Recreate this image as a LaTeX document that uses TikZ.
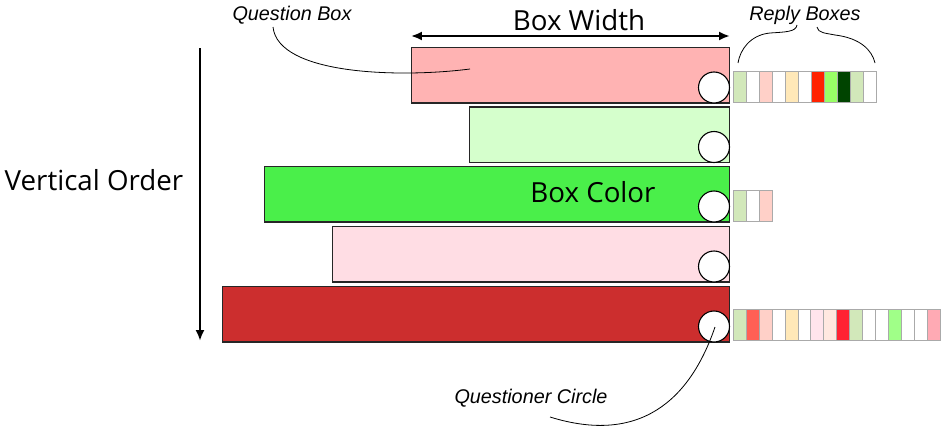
\documentclass[tikz,border=0pt]{standalone}
\usepackage{fontspec}
\setmainfont{Open Sans}
\newfontfamily\labelfont{Liberation Sans}
\usetikzlibrary{arrows.meta,calc}
\definecolor{qpink}{HTML}{FFB3B3}
\definecolor{qlgreen}{HTML}{D5FFCC}
\definecolor{qgreen}{HTML}{4AEF4A}
\definecolor{qlpink}{HTML}{FFDDE4}
\definecolor{qred}{HTML}{CC2E2E}
\definecolor{rlg}{HTML}{D2E8BA}
\definecolor{rsal}{HTML}{FFD0C8}
\definecolor{ryel}{HTML}{FFE8B8}
\definecolor{rred}{HTML}{FF2200}
\definecolor{rlime}{HTML}{99FF66}
\definecolor{rdg}{HTML}{004400}
\definecolor{rcoral}{HTML}{FF6055}
\definecolor{rpk1}{HTML}{FFE4EC}
\definecolor{rpk2}{HTML}{FFE8E0}
\definecolor{rred2}{HTML}{FF2233}
\definecolor{rlime2}{HTML}{A0FF88}
\definecolor{rrose}{HTML}{FFAAB4}
\definecolor{bordergray}{HTML}{AAAAAA}
\tikzset{
  qbox/.style={draw=black!85, line width=1.1pt, minimum height=55.5pt, anchor=south east, inner sep=0pt},
  qcirc/.style={circle, draw=black, fill=white, line width=1.1pt, minimum size=31pt, inner sep=0pt},
  rbox/.style={draw=bordergray, line width=1pt, minimum width=13pt, minimum height=31pt, inner sep=0pt, anchor=south west},
  bigarrow/.style={line width=2.6pt, {Latex[length=11pt,width=9pt]}-{Latex[length=11pt,width=9pt]}},
  downarrow/.style={line width=2.6pt, -{Latex[length=11pt,width=9pt]}},
  leader/.style={line width=0.8pt, black},
  bigtext/.style={font=\fontsize{27.7}{32}\selectfont, inner sep=0pt, anchor=base},
  itlabel/.style={font=\labelfont\itshape\fontsize{19.8}{22}\selectfont, inner sep=0pt, anchor=base},
}
\begin{document}
\begin{tikzpicture}[x=1pt,y=1pt]
\useasboundingbox (0,0) rectangle (945,-431);
% question boxes
\node[qbox, fill=qpink,   minimum width=318pt] (q1) at (730,-103.5) {};
\node[qbox, fill=qlgreen, minimum width=260pt] (q2) at (730,-163) {};
\node[qbox, fill=qgreen,  minimum width=465pt] (q3) at (730,-222.5) {};
\node[qbox, fill=qlpink,  minimum width=397pt] (q4) at (730,-282.5) {};
\node[qbox, fill=qred,    minimum width=507pt] (q5) at (730,-342.5) {};
% circles
\foreach \k in {1,...,5}{
  \node[qcirc] (c\k) at ([xshift=-16pt,yshift=16pt]q\k.south east) {};
}
% reply boxes
\foreach \c [count=\i] in {rlg,white,rsal,white,ryel,white,rred,rlime,rdg,rlg,white}{
  \node[rbox, fill=\c, xshift={(\i-1)*13pt}] (ra\i) at ([xshift=3pt,yshift=0.5pt]q1.south east) {};
}
\foreach \c [count=\i] in {rlg,white,rsal}{
  \node[rbox, fill=\c, xshift={(\i-1)*13pt}] (rb\i) at ([xshift=3pt,yshift=0.5pt]q3.south east) {};
}
\foreach \c [count=\i] in {rlg,rcoral,rsal,white,ryel,white,rpk1,rpk2,rred2,rlg,white,white,rlime2,white,white,rrose}{
  \node[rbox, fill=\c, xshift={(\i-1)*12.9pt}] (rc\i) at ([xshift=3pt,yshift=1.5pt]q5.south east) {};
}
% texts
\node[bigtext] (bw) at (579,-30) {Box Width};
\node[bigtext] (vo) at (94,-190.5) {Vertical Order};
\node[bigtext] (bc) at (593,-202.5) {Box Color};
\node[itlabel] (ql) at (292,-20) {Question Box};
\node[itlabel] (rl) at (805,-20.5) {Reply Boxes};
\node[itlabel] (cl) at (531,-403) {Questioner Circle};
% arrows
\coordinate (bwl) at (q1.west |- 0,-36);
\coordinate (bwr) at (q1.east |- 0,-36);
\draw[bigarrow] (bwl) -- (bwr);
\coordinate (vtop) at (200,-48);
\coordinate (vbot) at (200,-341);
\draw[downarrow] (vtop) -- (vbot);
% leaders
\coordinate (qs) at (273,-27);
\coordinate (qe) at (470,-69);
\draw[leader] (qs) .. controls (278,-75) and (400,-78) .. (qe);
\coordinate (rls) at (797,-25);
\coordinate (rle) at (738,-63);
\draw[leader] (rls) .. controls (796,-32) and (785,-32) .. (770,-33) .. controls (750,-35) and (740,-50) .. (rle);
\coordinate (rrs) at (817,-27);
\coordinate (rre) at (875,-63);
\draw[leader] (rrs) .. controls (818,-33) and (825,-33) .. (835,-35) .. controls (860,-38) and (872,-50) .. (rre);
\coordinate (cs) at (715,-327);
\coordinate (ce) at (550,-417);
\draw[leader] (cs) .. controls (690,-400) and (640,-445) .. (ce);
\end{tikzpicture}
\end{document}
